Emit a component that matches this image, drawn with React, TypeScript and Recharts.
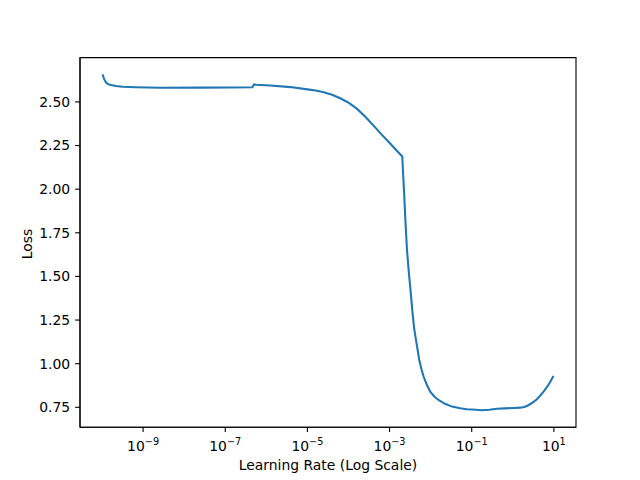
import { LineChart, Line, XAxis, YAxis, Label, ReferenceArea } from "recharts";

// log10 of the learning rate at each sampled point
const lrExponents = [
  -9.987, -9.955, -9.906, -9.858, -9.785, -9.663, -9.5, -9.18, -8.57, -7.6,
  -6.87, -6.34, -6.3, -6.24, -5.9, -5.41, -5.0, -4.8, -4.6, -4.4, -4.2, -3.99,
  -3.79, -3.59, -3.39, -3.18, -2.98, -2.84, -2.69, -2.67, -2.64, -2.61, -2.575,
  -2.535, -2.49, -2.44, -2.4, -2.356, -2.31, -2.276, -2.22, -2.17, -2.09,
  -2.01, -1.91, -1.81, -1.65, -1.48, -1.28, -1.12, -0.99, -0.75, -0.57,
  -0.39, -0.19, 0.02, 0.18, 0.28, 0.38, 0.49, 0.58, 0.66, 0.75, 0.83, 0.91,
  0.99,
];

const losses = [
  2.658, 2.635, 2.612, 2.602, 2.597, 2.591, 2.587, 2.584, 2.581, 2.582,
  2.583, 2.584, 2.6, 2.598, 2.594, 2.585, 2.572, 2.565, 2.555, 2.541, 2.521, 2.495,
  2.46, 2.415, 2.364, 2.31, 2.26, 2.225, 2.187, 2.09, 1.95, 1.8, 1.65,
  1.535, 1.421, 1.29, 1.2, 1.135, 1.07, 1.019, 0.965, 0.925, 0.878,
  0.84, 0.812, 0.792, 0.77, 0.754, 0.745, 0.739, 0.737, 0.733, 0.736,
  0.742, 0.744, 0.746, 0.748, 0.752, 0.762, 0.778, 0.795, 0.815, 0.84, 0.865, 0.895,
  0.93,
];

const xTickExponents = [-9, -7, -5, -3, -1, 1];
const yTicks = [0.75, 1.0, 1.25, 1.5, 1.75, 2.0, 2.25, 2.5];

const data = lrExponents.map((e, i) => ({ lr: Math.pow(10, e), loss: losses[i] }));
const xDomain = [Math.pow(10, -10.536), Math.pow(10, 1.539)];
const yDomain = [0.636, 2.754];

const FONT = "DejaVu Sans, sans-serif";
const FS = 13.9;

function PowerTick({ x, y, payload }: { x?: number; y?: number; payload?: { value: number } }) {
  const exp = Math.round(Math.log10(payload?.value ?? 1));
  const sup = exp < 0 ? `\u2212${-exp}` : `${exp}`;
  return (
    <text x={x} y={(y ?? 0) + 18.5} textAnchor="middle" fontFamily={FONT} fontSize={FS} fill="#000">
      <tspan>10</tspan>
      <tspan dy={-5.8} fontSize={9.7}>{sup}</tspan>
    </text>
  );
}

export default function App() {
  return (
    <div style={{ position: "absolute", left: 0, top: 0, width: 640, height: 480, background: "#fff" }}>
      <LineChart width={640} height={480} data={data} margin={{ top: 57.6, right: 64, bottom: 0, left: 0 }}>
        <XAxis
          dataKey="lr"
          type="number"
          scale="log"
          domain={xDomain}
          allowDataOverflow
          ticks={xTickExponents.map((e) => Math.pow(10, e))}
          tick={<PowerTick />}
          height={52.8}
          tickSize={4.9}
          tickMargin={0}
          axisLine={{ stroke: "#000", strokeWidth: 1.1 }}
          tickLine={{ stroke: "#000", strokeWidth: 1.1 }}
        >
          <Label
            content={() => (
              <text x={328} y={470} textAnchor="middle" fontFamily={FONT} fontSize={FS} fill="#000">
                Learning Rate (Log Scale)
              </text>
            )}
          />
        </XAxis>
        <YAxis
          type="number"
          domain={yDomain}
          allowDataOverflow
          ticks={yTicks}
          tickFormatter={(v: number) => v.toFixed(2)}
          width={80}
          tickSize={4.9}
          tickMargin={4.9}
          tick={{ fontFamily: FONT, fontSize: FS, fill: "#000" }}
          axisLine={{ stroke: "#000", strokeWidth: 1.1 }}
          tickLine={{ stroke: "#000", strokeWidth: 1.1 }}
        >
          <Label
            content={() => (
              <text
                x={32}
                y={244}
                transform="rotate(-90 32 244)"
                textAnchor="middle"
                fontFamily={FONT}
                fontSize={FS}
                fill="#000"
              >
                Loss
              </text>
            )}
          />
        </YAxis>
        {/* frame: top and right spines */}
        <ReferenceArea
          x1={xDomain[0]}
          x2={xDomain[1]}
          y1={yDomain[0]}
          y2={yDomain[1]}
          ifOverflow="visible"
          fill="none"
          fillOpacity={0}
          stroke="#000"
          strokeWidth={1.1}
          strokeOpacity={1}
        />
        <Line
          type="linear"
          dataKey="loss"
          stroke="#1f77b4"
          strokeWidth={2.08}
          dot={false}
          isAnimationActive={false}
        />
      </LineChart>
    </div>
  );
}
